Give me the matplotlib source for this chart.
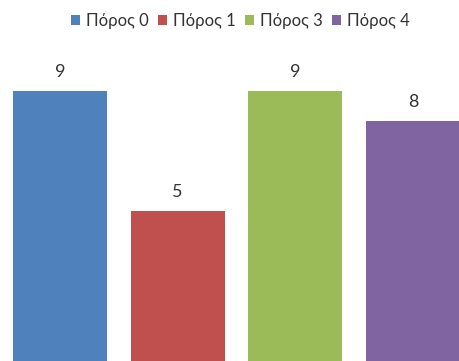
import matplotlib
matplotlib.use("Agg")
import matplotlib.pyplot as plt
from matplotlib.patches import Patch

categories = ["Πόρος 0", "Πόρος 1", "Πόρος 3", "Πόρος 4"]
values = [9, 5, 9, 8]
colors = ["#4F81BD", "#C0504D", "#9BBB59", "#8064A2"]

plt.rcParams["font.family"] = ["Lato", "DejaVu Sans"]

fig = plt.figure(figsize=(4.59, 3.61), dpi=100)
ax = fig.add_axes([0, 0, 1, 1])

x = list(range(len(values)))
bars = ax.bar(x, values, width=0.8, color=colors, edgecolor="none")
for xi, v in zip(x, values):
    ax.annotate(str(v), (xi, v), xytext=(0, 8), textcoords="offset points",
                ha="center", va="bottom", fontsize=13, color="#333333")

ax.set_xlim(-0.51, 3.39)
ax.set_ylim(0, 12.03)
ax.axis("off")

handles = [Patch(facecolor=c, edgecolor="none") for c in colors]
fig.legend(handles, categories, loc="center", bbox_to_anchor=(0.523, 0.942),
           ncol=4, frameon=False, fontsize=12, handlelength=0.55,
           handleheight=0.55, handletextpad=0.35, columnspacing=0.55,
           labelcolor="#333333")

fig.savefig("out.png", dpi=100)
